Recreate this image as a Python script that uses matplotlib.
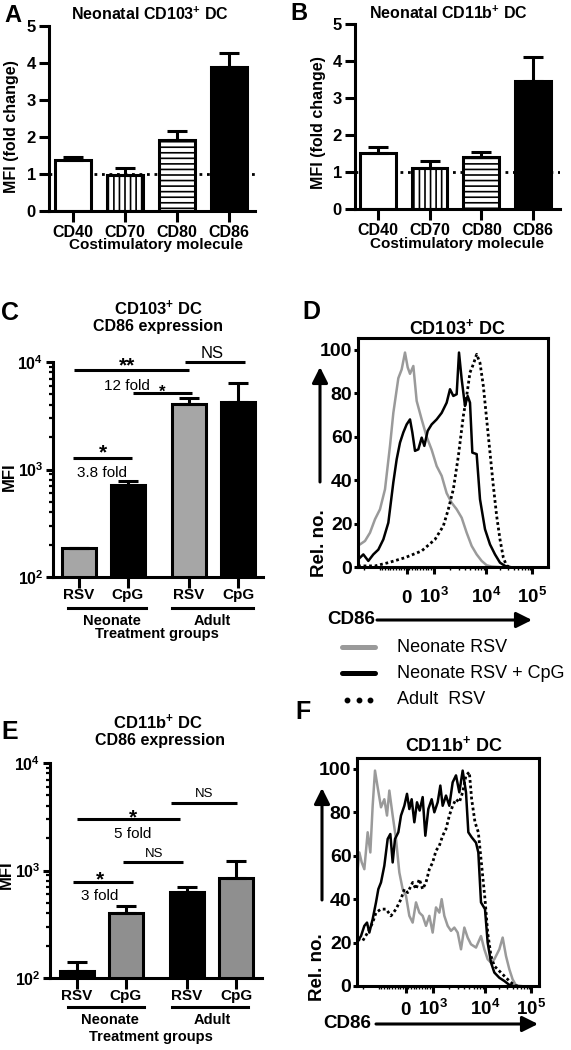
import matplotlib
matplotlib.use('Agg')
import matplotlib.pyplot as plt
import matplotlib.transforms as mtrans
from matplotlib.lines import Line2D
from matplotlib.patches import FancyArrowPatch
from matplotlib.ticker import LogLocator, NullFormatter, FixedLocator
import numpy as np

# ---------------- data ----------------
costim = ['CD40', 'CD70', 'CD80', 'CD86']
a_mean = [1.38, 0.97, 1.92, 3.88]
a_upper = [1.45, 1.15, 2.15, 4.28]
b_mean = [1.52, 1.10, 1.40, 3.47]
b_upper = [1.67, 1.30, 1.53, 4.10]

treat_labels = ['RSV', 'CpG', 'RSV', 'CpG']
c_mean = [187, 718, 4060, 4270]
c_upper = [187, 782, 4590, 6420]
e_mean = [115, 400, 627, 857]
e_upper = [142, 468, 707, 1226]

# histogram data (x in display channels of the biexponential CD86 axis)
d_gray_x = [0, 6, 21, 36, 51, 66, 81, 96, 106, 121, 131, 141, 149, 156, 166, 176, 191, 206, 221, 236,
            251, 266, 281, 296, 311, 326, 341, 356, 371, 386, 401, 421]
d_gray_y = [10, 10.4, 12, 15.8, 22, 26.6, 35.8, 55.8, 71, 87, 91, 98.8, 92, 89, 92.6, 76.5, 68, 60, 54, 46.5,
            42, 34, 29.6, 26.6, 22.7, 15.8, 9.7, 5.8, 2.8, 0.8, 0.2, 0]
d_black_x = [0, 6, 16, 31, 46, 61, 76, 91, 106, 116, 126, 136, 146, 156, 163, 171, 181, 191, 199, 209,
             221, 236, 251, 266, 276, 286, 296, 303, 311, 321, 329, 336, 343, 356, 366, 381, 396, 411, 426, 441, 456]
d_black_y = [3.5, 4.3, 5.8, 2.8, 5.8, 8, 12.7, 20.4, 39, 49.6, 57.3, 62, 65.7, 68, 62, 53.5, 54.2, 59.6, 55.8, 62.7,
             65.7, 68, 71, 75.7, 81.9, 78.8, 79.6, 98.8, 86.5, 74.2, 78.8, 75.7, 52.7, 52, 31.2, 17.4, 10.4, 5.8, 2, 0.5, 0]
d_dot_x = [0, 11, 51, 91, 141, 191, 231, 256, 271, 286, 301, 316, 326, 336, 346, 356, 366, 376, 386, 396,
           406, 416, 426, 436, 446, 461]
d_dot_y = [0.5, 0.5, 0.5, 2, 4.3, 7.4, 12.7, 18.9, 26.6, 35.8, 51, 69.6, 78.8, 89.6, 93.4, 98, 94, 83.4, 68, 52.7,
           37.3, 23.5, 12.7, 4.3, 0.5, 0]

f_gray_x = [2, 7, 14, 22, 32, 40, 47, 54, 62, 72, 82, 90, 97, 107, 117, 127, 137, 147, 157, 167,
            177, 187, 197, 207, 217, 227, 237, 247, 254, 262, 272, 282, 292, 302, 312, 322, 332, 342, 357, 372,
            382, 392, 402, 412, 427, 437, 447, 457, 467, 477, 492]
f_gray_y = [53.8, 61.5, 57, 53.8, 70.8, 61.5, 83, 99.2, 91.5, 82.3, 86, 78.5, 90, 78.5, 67.7, 52.3, 44.6, 41.5, 32.3, 29.2,
            38.5, 33.8, 32.3, 27.7, 32.3, 24.6, 36.2, 33.8, 40, 32.3, 27.7, 25.4, 26.9, 24.6, 16.9, 26.9, 22.3, 19.2, 17.7, 23,
            16.9, 12.3, 10.8, 12.3, 16.9, 22.3, 13.8, 7.7, 3, 0.3, 0]
f_black_x = [2, 12, 22, 30, 37, 47, 57, 64, 72, 82, 92, 100, 107, 114, 124, 132, 142, 150, 157, 164,
             172, 180, 188, 197, 205, 214, 224, 232, 242, 250, 257, 267, 277, 287, 297, 307, 317, 327, 334, 344,
             357, 364, 372, 384, 392, 402, 412, 427, 442, 457, 472]
f_black_y = [20.8, 23, 27.7, 29.2, 24.6, 30.8, 38.5, 44.6, 47.7, 55.4, 67.7, 70, 56.9, 67.7, 70.8, 78.5, 83, 88.5, 81.5, 86,
             75.4, 84.6, 80.8, 87, 69.2, 81.5, 86, 80, 84.6, 92.3, 83, 87.7, 83, 93.8, 97, 89.2, 99.2, 89.2, 70.8, 68.5,
             66, 61.5, 38.5, 35.4, 20, 10.8, 6.2, 3.8, 2.3, 0.5, 0]
f_dot_x = [2, 17, 32, 47, 57, 72, 87, 102, 117, 132, 142, 152, 167, 177, 187, 197, 207, 217, 227, 237,
           247, 257, 267, 277, 287, 297, 307, 317, 327, 337, 344, 354, 364, 374, 384, 392, 402, 412, 427, 442,
           457, 472, 482]
f_dot_y = [21.5, 20.8, 24.6, 29.2, 33.8, 35.4, 35.4, 32.3, 35.4, 40, 44.6, 43, 47.7, 44.6, 49.2, 44.6, 47.7, 53.8, 56.9, 62.3,
           64.6, 69.2, 72.3, 78.5, 83, 86, 84.6, 89.2, 97, 98.5, 86, 75.4, 70.8, 55.4, 40, 24.6, 13.8, 9.2, 6.9, 4.6,
           2.3, 0.3, 0]

hist_tick_pos = [146, 227, 385, 522]          # channels of 0, 10^3, 10^4, 10^5
hist_tick_lab = ['0', r'$\mathbf{10^{3}}$', r'$\mathbf{10^{4}}$', r'$\mathbf{10^{5}}$']
legend_labels = ['Neonate RSV', 'Neonate RSV + CpG', 'Adult  RSV']

# ---------------- style ----------------
plt.rcParams['font.family'] = ['Liberation Sans', 'DejaVu Sans']
plt.rcParams['mathtext.fontset'] = 'custom'
plt.rcParams['mathtext.rm'] = 'Liberation Sans'
plt.rcParams['mathtext.bf'] = 'Liberation Sans:bold'
plt.rcParams['mathtext.it'] = 'Liberation Sans:italic'
plt.rcParams['hatch.linewidth'] = 1.2

W, H = 571, 1050
fig = plt.figure(figsize=(W / 100, H / 100), dpi=100)
GRAY = '#a6a6a6'
LGRAY = '#9a9a9a'
LW = 2.2


def rect(l, t, r, b):
    return [l / W, 1 - b / H, (r - l) / W, (b - t) / H]


def ftext(x, y, s, **kw):
    kw.setdefault('fontweight', 'bold')
    fig.text(x / W, 1 - y / H, s, **kw)


def farrow(x0, y0, x1, y1):
    a = FancyArrowPatch((x0, H - y0), (x1, H - y1), transform=mtrans.IdentityTransform(),
                        arrowstyle='-|>,head_length=0.9,head_width=0.45', mutation_scale=10.5,
                        lw=LW, color='k', shrinkA=0, shrinkB=0)
    fig.add_artist(a)


def bold_ticks(ax):
    for lbl in ax.get_xticklabels() + ax.get_yticklabels():
        lbl.set_fontweight('bold')


# ---------------- panels A, B ----------------
def fold_panel(r, xlim, means, uppers):
    ax = fig.add_axes(rect(*r))
    x = np.arange(len(costim))
    ax.axhline(1, color='k', lw=2.0, ls=(0, (1, 1.7)), zorder=1)
    bars = ax.bar(x, means, width=0.69, color=['white', 'white', 'white', 'black'],
                  edgecolor='k', linewidth=LW, zorder=2)
    for p, h in zip(bars, [None, '|||', '---', None]):
        if h:
            p.set_hatch(h)
    ax.errorbar(x, means, yerr=[np.zeros(4), np.array(uppers) - np.array(means)], fmt='none',
                ecolor='k', elinewidth=LW, capsize=7.5, capthick=LW, zorder=3)
    ax.set_xlim(*xlim)
    ax.set_ylim(0, 5)
    ax.set_yticks(range(6))
    ax.set_xticks(x)
    ax.set_xticklabels(costim, fontsize=11.5)
    ax.tick_params(axis='y', labelsize=12, length=7.5, width=LW, pad=2)
    ax.tick_params(axis='x', length=8, width=LW, pad=2)
    for s in ['top', 'right']:
        ax.spines[s].set_visible(False)
    for s in ['left', 'bottom']:
        ax.spines[s].set_linewidth(LW)
    bold_ticks(ax)
    return ax


fold_panel((49, 26, 255, 211), (-0.46, 3.5), a_mean, a_upper)
fold_panel((355, 24, 560, 209), (-0.44, 3.52), b_mean, b_upper)

ftext(4, 16, 'A', fontsize=17, va='center')
ftext(150, 14, r'Neonatal CD103$^{\mathbf{+}}$ DC', fontsize=11.5, ha='center', va='center')
ftext(12, 127, 'MFI (fold change)', fontsize=11.5, ha='center', va='center', rotation=90)
ftext(156, 245, 'Costimulatory molecule', fontsize=11, ha='center', va='center')
ftext(290, 14, 'B', fontsize=17, va='center')
ftext(448, 13, r'Neonatal CD11b$^{\mathbf{+}}$ DC', fontsize=11.5, ha='center', va='center')
ftext(318, 123, 'MFI (fold change)', fontsize=11.5, ha='center', va='center', rotation=90)
ftext(457, 244, 'Costimulatory molecule', fontsize=11, ha='center', va='center')

# ---------------- panels C, E ----------------
POS = np.array([0, 1, 2.25, 3.25])


def mfi_panel(r, xlim, means, uppers, colors, groups):
    ax = fig.add_axes(rect(*r))
    ax.bar(POS, means, width=0.71, color=colors, edgecolor='k', linewidth=LW, zorder=2)
    ax.errorbar(POS, means, yerr=[np.zeros(4), np.array(uppers) - np.array(means)], fmt='none',
                ecolor='k', elinewidth=LW, capsize=7.5, capthick=LW, zorder=3)
    ax.set_yscale('log')
    ax.set_ylim(100, 10000)
    ax.set_xlim(*xlim)
    ax.set_yticks([100, 1000, 10000])
    ax.set_yticklabels([r'$\mathbf{10^{2}}$', r'$\mathbf{10^{3}}$', r'$\mathbf{10^{4}}$'])
    ax.yaxis.set_minor_locator(LogLocator(base=10, subs=np.arange(2, 10)))
    ax.yaxis.set_minor_formatter(NullFormatter())
    ax.set_xticks(POS)
    ax.set_xticklabels(treat_labels, fontsize=11)
    ax.tick_params(axis='y', which='major', labelsize=11.5, length=5, width=LW, pad=2)
    ax.tick_params(axis='y', which='minor', length=3, width=1.6)
    ax.tick_params(axis='x', length=8, width=LW, pad=0)
    for s in ['top', 'right']:
        ax.spines[s].set_visible(False)
    for s in ['left', 'bottom']:
        ax.spines[s].set_linewidth(LW)
    bold_ticks(ax)
    tr = ax.get_xaxis_transform()
    (ly, ty, tty, nx, ax_, tx, lines) = groups
    for (x0, x1) in lines:
        ax.plot([x0, x1], [ly, ly], color='k', lw=LW, transform=tr, clip_on=False)
    ax.text(nx, ty, 'Neonate', transform=tr, ha='center', va='center', fontsize=10.5, fontweight='bold')
    ax.text(ax_, ty, 'Adult', transform=tr, ha='center', va='center', fontsize=10.5, fontweight='bold')
    ax.text(tx, tty, 'Treatment groups', transform=tr, ha='center', va='center', fontsize=10.5, fontweight='bold')
    return ax


def sig(ax, x0, x1, y):
    ax.plot([x0, x1], [y, y], color='k', lw=LW, clip_on=False, solid_capstyle='butt')


def stext(ax, x, y, s, size, bold=False):
    ax.text(x, y, s, ha='center', va='baseline', fontsize=size,
            fontweight='bold' if bold else 'normal', clip_on=False)


axC = mfi_panel((53, 362, 263, 577), (-0.53, 3.76), c_mean, c_upper,
                [GRAY, 'black', GRAY, 'black'],
                (-0.144, -0.205, -0.265, 0.67, 2.73, 1.6, [(-0.22, 1.37), (1.9, 3.55)]))
sig(axC, -0.1, 2.25, 10 ** 3.926)
stext(axC, 0.98, 10 ** 3.91, '**', 15, True)
stext(axC, 0.98, 10 ** 3.74, '12 fold', 11)
sig(axC, 1.1, 2.31, 10 ** 3.712)
stext(axC, 1.71, 10 ** 3.674, '*', 12, True)
sig(axC, 2.16, 3.39, 10 ** 4.0)
stext(axC, 2.73, 10 ** 4.037, 'NS', 12)
sig(axC, -0.12, 1.08, 10 ** 3.107)
stext(axC, 0.49, 10 ** 3.1, '*', 15, True)
stext(axC, 0.47, 10 ** 2.93, '3.8 fold', 11)

ftext(1, 313, 'C', fontsize=18, va='center')
ftext(159, 308, r'CD103$^{\mathbf{+}}$ DC', fontsize=12, ha='center', va='center')
ftext(158, 327, 'CD86 expression', fontsize=11.5, ha='center', va='center')
ftext(9, 477, 'MFI', fontsize=12, ha='center', va='center', rotation=90)

axE = mfi_panel((50, 763, 262, 978), (-0.55, 3.78), e_mean, e_upper,
                ['black', '#8f8f8f', 'black', '#8f8f8f'],
                (-0.135, -0.195, -0.274, 0.67, 2.76, 1.51, [(-0.18, 1.37), (1.94, 3.49)]))
sig(axE, 0.0, 2.1, 10 ** 3.479)
stext(axE, 1.14, 10 ** 3.435, '*', 15, True)
stext(axE, 1.14, 10 ** 3.302, '5 fold', 11)
sig(axE, 1.92, 3.27, 10 ** 3.628)
stext(axE, 2.59, 10 ** 3.684, 'NS', 9.5)
sig(axE, 0.94, 2.16, 10 ** 3.079)
stext(axE, 1.57, 10 ** 3.126, 'NS', 9.5)
sig(axE, -0.08, 1.14, 10 ** 2.893)
stext(axE, 0.47, 10 ** 2.859, '*', 15, True)
stext(axE, 0.47, 10 ** 2.726, '3 fold', 11)

ftext(1, 732, 'E', fontsize=18, va='center')
ftext(158, 722, r'CD11b$^{\mathbf{+}}$ DC', fontsize=12, ha='center', va='center')
ftext(160, 741, 'CD86 expression', fontsize=11.5, ha='center', va='center')
ftext(6, 875, 'MFI', fontsize=12, ha='center', va='center', rotation=90)


# ---------------- panels D, F ----------------
def minor_positions(xmax):
    p0, p3, p4, p5 = hist_tick_pos
    pos = []
    for k in range(2, 10):
        pos.append(p3 + np.log10(k) * (p4 - p3))
        pos.append(p4 + np.log10(k) * (p5 - p4))
    for v in range(100, 1000, 100):
        pos.append(p0 + (p3 - p0) * v / 1000)
    pos_pos = [p for p in pos if p > p0]
    neg = [2 * p0 - p for p in pos_pos if 2 * p0 - p > 2]
    neg.append(2 * p0 - p3)
    return [p for p in pos_pos + neg if 0 < p < xmax]


def hist_panel(r, xmax, ymax, gx, gy, bx, by, dx, dy, lab_y):
    ax = fig.add_axes(rect(*r))
    ax.plot(gx, gy, color=LGRAY, lw=1.8, zorder=2)
    ax.plot(bx, by, color='k', lw=1.8, zorder=3)
    ax.plot(dx, dy, color='k', lw=2.0, ls=(0, (1, 1)), zorder=4)
    ax.set_xlim(0, xmax)
    ax.set_ylim(0, ymax)
    ax.set_yticks(range(0, 101, 20))
    ax.tick_params(axis='y', labelsize=14, length=3, width=LW, pad=1)
    ax.set_xticks(hist_tick_pos)
    ax.set_xticklabels([])
    ax.xaxis.set_minor_locator(FixedLocator(minor_positions(xmax)))
    ax.tick_params(axis='x', which='major', length=5, width=LW)
    ax.tick_params(axis='x', which='minor', length=2.5, width=1.0)
    for s in ax.spines.values():
        s.set_linewidth(LW)
    bold_ticks(ax)
    tr = ax.get_xaxis_transform()
    for p, l in zip(hist_tick_pos, hist_tick_lab):
        ax.text(p, lab_y, l, transform=tr, ha='center', va='baseline', fontsize=13.5, fontweight='bold')
    return ax


hist_panel((358, 338, 548, 567), 570, 105.5, d_gray_x, d_gray_y, d_black_x, d_black_y,
           d_dot_x, d_dot_y, -0.157)
ftext(302, 312, 'D', fontsize=18, va='center')
ftext(457, 328, r'CD103$^{\mathbf{+}}$ DC', fontsize=13, ha='center', va='center')
ftext(319, 543, 'Rel. no.', fontsize=13.5, ha='center', va='center', rotation=90)
farrow(320, 482, 320, 367)
ftext(327, 620, 'CD86', fontsize=13.5, ha='left', va='center')
farrow(377, 620, 532, 620)

hist_panel((357, 758, 539, 986), 546, 105, f_gray_x, f_gray_y, f_black_x, f_black_y,
           f_dot_x, f_dot_y, -0.127)
ftext(295, 712, 'F', fontsize=18, va='center')
ftext(454, 745, r'CD11b$^{\mathbf{+}}$ DC', fontsize=13, ha='center', va='center')
ftext(318, 967, 'Rel. no.', fontsize=13.5, ha='center', va='center', rotation=90)
farrow(322, 900, 322, 788)
ftext(323, 1024, 'CD86', fontsize=13.5, ha='left', va='center')
farrow(376, 1024, 538, 1024)

# ---------------- legend ----------------
ly = [647, 673, 700]
fig.add_artist(Line2D([342 / W, 375 / W], [1 - ly[0] / H] * 2, transform=fig.transFigure,
                      color=LGRAY, lw=3.6, solid_capstyle='round'))
fig.add_artist(Line2D([342 / W, 375 / W], [1 - ly[1] / H] * 2, transform=fig.transFigure,
                      color='k', lw=3.6, solid_capstyle='round'))
fig.add_artist(Line2D([347 / W, 358.5 / W, 370 / W], [1 - ly[2] / H] * 3, transform=fig.transFigure,
                      color='k', lw=0, marker='o', markersize=3.2))
for yy, lab in zip(ly, legend_labels):
    ftext(397, yy, lab, fontsize=13, fontweight='normal', ha='left', va='center')

fig.savefig('out.png', dpi=100)
